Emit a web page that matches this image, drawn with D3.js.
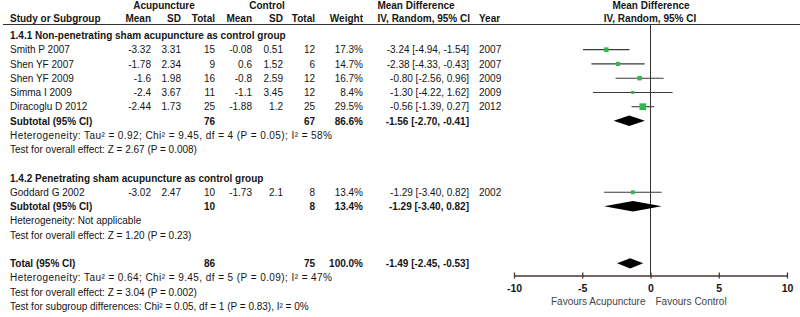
<!DOCTYPE html>
<html><head><meta charset="utf-8">
<script src="https://cdn.jsdelivr.net/npm/d3@7"></script>
<style>
body{margin:0;background:#fff;}
svg{display:block;}
text{font-family:"Liberation Sans",Arial,sans-serif;font-size:10px;fill:#151515;}
.b{font-weight:bold;}
</style></head><body>
<svg id="c" width="800" height="317"></svg>
<script>
// ---- data ----
const groupTitles = ["1.4.1 Non-penetrating sham acupuncture as control group",
                     "1.4.2 Penetrating sham acupuncture as control group"];
const studies = ["Smith P 2007","Shen YF 2007","Shen YF 2009","Simma I 2009","Diracoglu D 2012","Goddard G 2002"];
const studyGroup = [0,0,0,0,0,1];
const acuMean = ["-3.32","-1.78","-1.6","-2.4","-2.44","-3.02"];
const acuSD = ["3.31","2.34","1.98","3.67","1.73","2.47"];
const acuN = [15,9,16,11,25,10];
const ctlMean = ["-0.08","0.6","-0.8","-1.1","-1.88","-1.73"];
const ctlSD = ["0.51","1.52","2.59","3.45","1.2","2.1"];
const ctlN = [12,6,12,12,25,8];
const weights = [17.3,14.7,16.7,8.4,29.5,13.4];
const md = [-3.24,-2.38,-0.80,-1.30,-0.56,-1.29];
const ciLo = [-4.94,-4.33,-2.56,-4.22,-1.39,-3.40];
const ciHi = [-1.54,-0.43,0.96,1.62,0.27,0.82];
const years = [2007,2007,2009,2009,2012,2002];

const subLabels = ["Subtotal (95% CI)","Subtotal (95% CI)","Total (95% CI)"];
const subN1 = [76,10,86];
const subN2 = [67,8,75];
const subW = ["86.6%","13.4%","100.0%"];
const subMD = [-1.56,-1.29,-1.49];
const subLo = [-2.70,-3.40,-2.45];
const subHi = [-0.41,0.82,-0.53];
const hetText = ["Heterogeneity: Tau\u00b2 = 0.92; Chi\u00b2 = 9.45, df = 4 (P = 0.05); I\u00b2 = 58%",
                 "Heterogeneity: Not applicable",
                 "Heterogeneity: Tau\u00b2 = 0.64; Chi\u00b2 = 9.45, df = 5 (P = 0.09); I\u00b2 = 47%"];
const effText = ["Test for overall effect: Z = 2.67 (P = 0.008)",
                 "Test for overall effect: Z = 1.20 (P = 0.23)",
                 "Test for overall effect: Z = 3.04 (P = 0.002)"];
const subgroupText = "Test for subgroup differences: Chi\u00b2 = 0.05, df = 1 (P = 0.83), I\u00b2 = 0%";
const axisTicks = [-10,-5,0,5,10];
const favours = ["Favours Acupuncture","Favours Control"];

// ---- layout ----
const svg = d3.select("#c");
const x = d3.scaleLinear().domain([-10,10]).range([514,787]);
const row = i => 39 + 14.26*i;
const sq = d3.scaleLinear().domain([0,30]).range([1.5,6.8]);
const fmt = v => v.toFixed(2);
const ciStr = (m,l,h) => `${fmt(m)} [${fmt(l)}, ${fmt(h)}]`;
const col = {acuMean:151, acuSD:181, acuN:215, ctlMean:252, ctlSD:283, ctlN:315, w:363, md:469, year:479};

function t(xp, y, s, anchor="start", cls="") {
  return svg.append("text").attr("x",xp).attr("y",y).attr("text-anchor",anchor).attr("class",cls).text(s);
}

// header
t(164,9,"Acupuncture","middle","b");
t(267,9,"Control","middle","b");
t(416,9,"Mean Difference","middle","b");
t(651,9,"Mean Difference","middle","b");
t(10,21.5,"Study or Subgroup","start","b");
t(col.acuMean,21.5,"Mean","end","b");
t(col.acuSD,21.5,"SD","end","b");
t(col.acuN,21.5,"Total","end","b");
t(col.ctlMean,21.5,"Mean","end","b");
t(col.ctlSD,21.5,"SD","end","b");
t(col.ctlN,21.5,"Total","end","b");
t(col.w,21.5,"Weight","end","b");
t(col.md+1,21.5,"IV, Random, 95% CI","end","b");
t(col.year,21.5,"Year","start","b");
t(650,21.5,"IV, Random, 95% CI","middle","b");
svg.append("line").attr("x1",3).attr("x2",800).attr("y1",24.5).attr("y2",24.5).attr("stroke","#333").attr("stroke-width",1.2);

// zero line
svg.append("line").attr("x1",x(0)).attr("x2",x(0)).attr("y1",24.5).attr("y2",275.5).attr("stroke","#333").attr("stroke-width",1);

// layout rows
const groupStart = [0,10];
const subRowIdx = [6,12,16];
groupTitles.forEach((g,gi)=> t(10,row(groupStart[gi]),g,"start","b"));

studies.forEach((s,i)=>{
  const g = studyGroup[i];
  const k = studyGroup.slice(0,i).filter(v=>v===g).length;
  const r = row(groupStart[g]+1+k);
  t(10,r,s);
  t(col.acuMean,r,acuMean[i],"end");
  t(col.acuSD,r,acuSD[i],"end");
  t(col.acuN,r,acuN[i],"end");
  t(col.ctlMean,r,ctlMean[i],"end");
  t(col.ctlSD,r,ctlSD[i],"end");
  t(col.ctlN,r,ctlN[i],"end");
  t(col.w,r,weights[i].toFixed(1)+"%","end");
  t(col.md,r,ciStr(md[i],ciLo[i],ciHi[i]),"end");
  t(col.year,r,years[i]);
  const cy = r-3.6;
  svg.append("line").attr("x1",x(ciLo[i])).attr("x2",x(ciHi[i])).attr("y1",cy).attr("y2",cy).attr("stroke","#3a3a3a").attr("stroke-width",1.1);
  const s2 = sq(weights[i]);
  svg.append("rect").attr("x",x(md[i])-s2/2).attr("y",cy-s2/2).attr("width",s2).attr("height",s2).attr("fill","#2fb84c");
});

subLabels.forEach((lab,j)=>{
  const r = row(subRowIdx[j]);
  t(10,r,lab,"start","b");
  t(col.acuN,r,subN1[j],"end","b");
  t(col.ctlN,r,subN2[j],"end","b");
  t(col.w,r,subW[j],"end","b");
  t(col.md,r,ciStr(subMD[j],subLo[j],subHi[j]),"end","b");
  const ht = t(10,row(subRowIdx[j]+1),hetText[j]);
  if (hetText[j].length > 40) ht.attr("textLength",322).attr("lengthAdjust","spacing");
  t(10,row(subRowIdx[j]+2),effText[j]);
  const cy = r-3.8, h = 5.2;
  const pts = [[x(subLo[j]),cy],[x(subMD[j]),cy-h],[x(subHi[j]),cy],[x(subMD[j]),cy+h]];
  svg.append("path").attr("d",d3.line()(pts)+"Z").attr("fill","#000");
});
t(10,row(19),subgroupText);

// axis
const ax = svg.append("g").attr("transform","translate(0,275.5)")
  .call(d3.axisBottom(x).tickValues(axisTicks).tickSize(3).tickSizeOuter(0).tickFormat(d => String(d)));
ax.select(".domain").attr("stroke","#4a3535").attr("stroke-width",1.3);
ax.selectAll(".tick line").attr("y1",-3).attr("y2",3).attr("stroke","#4a3535").attr("stroke-width",1.3);
ax.selectAll(".tick text").attr("y",9).attr("dy","0.71em").attr("class","b")
  .style("font-family","'Liberation Sans',Arial,sans-serif").style("font-size","10.5px").attr("fill","#333");
t(x(0)-5,305,favours[0],"end").style("fill","#444");
t(x(0)+5,305,favours[1],"start").style("fill","#444");
</script>
</body></html>
